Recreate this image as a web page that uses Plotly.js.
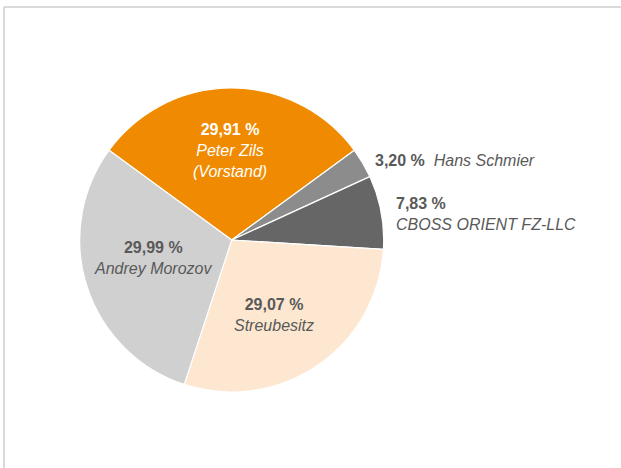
<!DOCTYPE html>
<html>
<head>
<meta charset="utf-8">
<script src="https://cdn.plot.ly/plotly-3.0.1.min.js"></script>
<style>html,body{margin:0;padding:0;background:#fff;}#chart{width:621px;height:468px;}</style>
</head>
<body>
<div id="chart"></div>
<script>
// Data
const labels = ["Peter Zils (Vorstand)", "Hans Schmier", "CBOSS ORIENT FZ-LLC", "Streubesitz", "Andrey Morozov"];
const nameLines = ["Peter Zils<br>(Vorstand)", "Hans Schmier", "CBOSS ORIENT FZ-LLC", "Streubesitz", "Andrey Morozov"];
const values = [29.91, 3.20, 7.83, 29.07, 29.99];
const pctText = ["29,91 %", "3,20 %", "7,83 %", "29,07 %", "29,99 %"];

// Styles / layout (not data)
const colors = ["#F08A00", "#8C8C8C", "#666666", "#FDE7D0", "#D0D0D0"];
const textColors = ["#FFFFFF", "#595959", "#595959", "#595959", "#595959"];
const W = 621, H = 468;
const cx = 231.7, cy = 240, R = 152;
// label anchor positions in pixels [x, y, xanchor, layout]
const labelPos = [
  [230, 150, "center", "stack"],
  [373, 160, "left", "inline"],
  [394, 214, "left", "stackLeft"],
  [274, 315, "center", "stack"],
  [153, 258, "center", "stack"]
];

const annotations = labels.map((l, i) => {
  const p = labelPos[i];
  let text;
  if (p[3] === "inline") {
    text = "<b>" + pctText[i] + "</b>  <i>" + nameLines[i] + "</i>";
  } else {
    text = "<b>" + pctText[i] + "</b><br><i>" + nameLines[i] + "</i>";
  }
  return {
    xref: "paper", yref: "paper",
    x: p[0] / W, y: 1 - p[1] / H,
    xanchor: p[2], yanchor: "middle",
    align: p[2] === "left" ? "left" : "center",
    showarrow: false,
    text: text,
    font: {family: "Liberation Sans, Arial, sans-serif", size: 16, color: textColors[i]}
  };
});

const trace = {
  type: "pie",
  labels: labels,
  values: values,
  sort: false,
  direction: "clockwise",
  rotation: -53.85,
  marker: {colors: colors, line: {color: "#FFFFFF", width: 1.2}},
  textinfo: "none",
  hoverinfo: "label+percent",
  showlegend: false,
  domain: {x: [(cx - R) / W, (cx + R) / W], y: [1 - (cy + R) / H, 1 - (cy - R) / H]}
};

const layout = {
  width: W, height: H,
  margin: {l: 0, r: 0, t: 0, b: 0},
  paper_bgcolor: "#FFFFFF",
  showlegend: false,
  annotations: annotations,
  shapes: [
    {type: "line", xref: "paper", yref: "paper", x0: 4 / W, x1: 1, y0: 1 - 7 / H, y1: 1 - 7 / H, line: {color: "#CCCCCC", width: 1.5}},
    {type: "line", xref: "paper", yref: "paper", x0: 4 / W, x1: 4 / W, y0: 1 - 7 / H, y1: 0, line: {color: "#CCCCCC", width: 1.5}}
  ]
};

Plotly.newPlot("chart", [trace], layout, {staticPlot: true, displayModeBar: false});
</script>
</body>
</html>
